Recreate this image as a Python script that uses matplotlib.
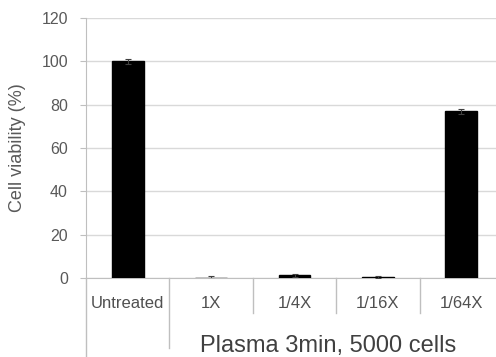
import numpy as np
import matplotlib
matplotlib.use("Agg")
import matplotlib.pyplot as plt
from matplotlib.transforms import blended_transform_factory
from matplotlib.lines import Line2D

categories = ["Untreated", "1X", "1/4X", "1/16X", "1/64X"]
viability = [100.0, 0.2, 1.2, 0.4, 77.0]
errors = [1.2, 0.6, 0.6, 0.6, 1.2]
group_label = "Plasma 3min, 5000 cells"
y_ticks = [0, 20, 40, 60, 80, 100, 120]

GRID = "#d9d9d9"
AXIS = "#bfbfbf"
TXT = "#595959"

plt.rcParams["font.family"] = "Liberation Sans"

W, H = 496, 357
fig = plt.figure(figsize=(W / 100, H / 100), dpi=100)
# axes in pixel coords: x 86..503, y 18..278 (top-origin)
ax = fig.add_axes([86 / W, (H - 278) / H, 417 / W, 260 / H])

x = np.arange(len(categories))
ax.bar(x, viability, width=0.38, color="black", edgecolor="black", zorder=3)
ax.errorbar(x, viability, yerr=errors, fmt="none", ecolor="#404040",
            elinewidth=0.8, capsize=2.5, capthick=0.8, zorder=4)

ax.set_xlim(-0.5, len(categories) - 0.5)
ax.set_ylim(0, 120)
ax.set_yticks(y_ticks)
ax.yaxis.grid(True, color=GRID, lw=1.0, zorder=0)
ax.set_axisbelow(True)
ax.tick_params(axis="y", length=4, color=AXIS, pad=9, labelsize=11.5, labelcolor=TXT)
ax.tick_params(axis="x", length=0, labelbottom=False)
for s in ["top", "right"]:
    ax.spines[s].set_visible(False)
ax.spines["left"].set_color(AXIS)
ax.spines["bottom"].set_color(AXIS)

ax.set_ylabel("Cell viability (%)", fontsize=13, color=TXT, labelpad=11)

# multi-level category axis
trans = blended_transform_factory(ax.transData, ax.transAxes)
px = 1 / 260  # one pixel in axes-y units
for i, lab in enumerate(categories):
    ax.text(i, -25 * px, lab, transform=trans, ha="center", va="center",
            fontsize=12, color="#505050")
seps = [(-0.5, -79 * px), (0.5, -70 * px), (1.5, -35 * px), (2.5, -35 * px), (3.5, -35 * px)]
for xs, ybot in seps:
    ax.add_line(Line2D([xs, xs], [0, ybot], transform=trans, color=AXIS,
                       lw=1.0, clip_on=False))
ax.text(2.4, -68 * px, group_label, transform=trans, ha="center", va="center",
        fontsize=17, color="#404040")

fig.savefig("out.png", dpi=100, facecolor="white")
